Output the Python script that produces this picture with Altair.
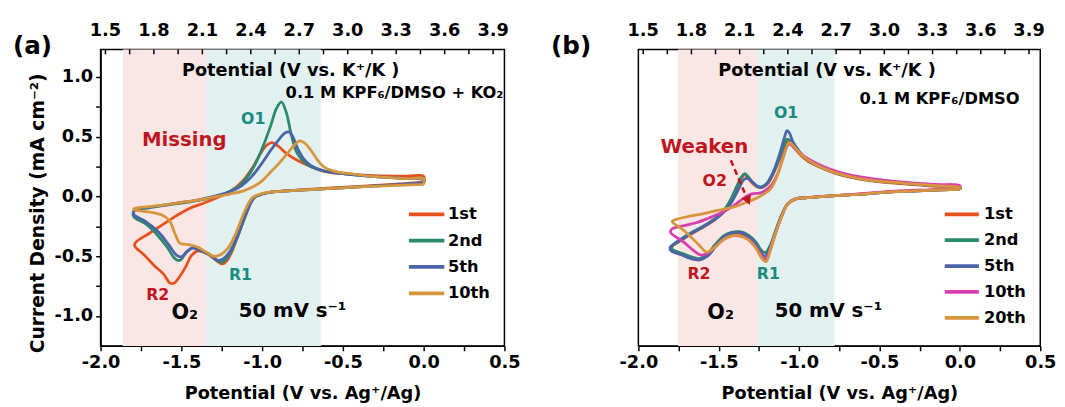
import altair as alt
import pandas as pd

FONT = "DejaVu Sans"

# ---------------- data ----------------
X_DOMAIN = [-2.0, 0.5]
Y_DOMAIN = [-1.25, 1.23]
K_DOMAIN = [1.47, 3.97]
X_TICKS = [-2.0, -1.75, -1.5, -1.25, -1.0, -0.75, -0.5, -0.25, 0.0, 0.25, 0.5]
Y_TICKS = [-1.0, -0.75, -0.5, -0.25, 0.0, 0.25, 0.5, 0.75, 1.0]
TOP_TICKS = [1.5, 1.65, 1.8, 1.95, 2.1, 2.25, 2.4, 2.55, 2.7, 2.85, 3.0, 3.15, 3.3, 3.45, 3.6, 3.75, 3.9]
TOP_LABELS = [1.5, 1.8, 2.1, 2.4, 2.7, 3.0, 3.3, 3.6, 3.9]

A_NAMES = ["1st", "2nd", "5th", "10th"]
A_COLORS = ["#e8501c", "#2b8a6e", "#4a64aa", "#d8963c"]
B_NAMES = ["1st", "2nd", "5th", "10th", "20th"]
B_COLORS = ["#e8501c", "#2b8a6e", "#4a64aa", "#d83fae", "#d8963c"]

A_PINK = [-1.862, -1.348]
A_TEAL = [-1.348, -0.636]
B_PINK = [-1.753, -1.262]
B_TEAL = [-1.262, -0.78]

# panel (a)
A1_V = [0.00, -0.20, -0.40, -0.60, -0.80, -0.92, -1.00, -1.05, -1.10, -1.15,
        -1.19, -1.22, -1.245, -1.29, -1.34, -1.40, -1.44, -1.47, -1.51, -1.545,
        -1.57, -1.61, -1.67, -1.73, -1.79,
        -1.78, -1.70, -1.62, -1.53, -1.45, -1.36, -1.28, -1.20, -1.12, -1.06,
        -1.01, -0.97, -0.94, -0.90, -0.85, -0.78, -0.70, -0.62, -0.50, -0.30,
        -0.10, 0.00, 0.00]
A1_I = [0.12, 0.10, 0.085, 0.07, 0.05, 0.04, 0.02, -0.01, -0.15, -0.33,
        -0.47, -0.54, -0.565, -0.53, -0.48, -0.455, -0.50, -0.58, -0.67, -0.725,
        -0.725, -0.65, -0.575, -0.49, -0.41,
        -0.38, -0.31, -0.24, -0.16, -0.10, -0.055, -0.01, 0.04, 0.13, 0.24,
        0.36, 0.43, 0.45, 0.42, 0.36, 0.30, 0.25, 0.21, 0.19, 0.175,
        0.17, 0.17, 0.12]

A2_V = [0.00, -0.20, -0.40, -0.60, -0.80, -0.92, -1.00, -1.05, -1.10, -1.15,
        -1.20, -1.235, -1.26, -1.29, -1.33, -1.38, -1.43, -1.47, -1.51, -1.54,
        -1.59, -1.65, -1.72, -1.795,
        -1.79, -1.70, -1.60, -1.50, -1.40, -1.30,
        -1.22, -1.15, -1.10, -1.05, -1.00, -0.95, -0.91, -0.88, -0.85, -0.82,
        -0.79, -0.75, -0.70, -0.62, -0.50, -0.30, -0.10, 0.00, 0.00]
A2_I = [0.11, 0.095, 0.08, 0.065, 0.05, 0.04, 0.02, -0.01, -0.15, -0.33,
        -0.48, -0.54, -0.55, -0.52, -0.48, -0.45, -0.43, -0.47, -0.535, -0.52,
        -0.42, -0.32, -0.23, -0.17,
        -0.12, -0.095, -0.075, -0.055, -0.035, -0.005,
        0.03, 0.08, 0.15, 0.25, 0.40, 0.58, 0.74, 0.79, 0.70, 0.52,
        0.38, 0.30, 0.25, 0.215, 0.19, 0.165, 0.15, 0.145, 0.11]

A3_V = [0.00, -0.20, -0.40, -0.60, -0.80, -0.92, -1.00, -1.05, -1.10, -1.15,
        -1.20, -1.24, -1.275, -1.31, -1.35, -1.39, -1.43, -1.465, -1.50, -1.53,
        -1.58, -1.64, -1.72, -1.795,
        -1.79, -1.70, -1.60, -1.50, -1.40, -1.30,
        -1.22, -1.15, -1.10, -1.05, -1.00, -0.95, -0.90, -0.86, -0.835, -0.81,
        -0.78, -0.74, -0.70, -0.62, -0.50, -0.30, -0.10, 0.00, 0.00]
A3_I = [0.115, 0.095, 0.08, 0.065, 0.05, 0.04, 0.02, -0.01, -0.14, -0.32,
        -0.46, -0.52, -0.535, -0.50, -0.47, -0.45, -0.43, -0.46, -0.505, -0.49,
        -0.40, -0.30, -0.21, -0.15,
        -0.115, -0.09, -0.07, -0.05, -0.03, 0.0,
        0.03, 0.07, 0.12, 0.19, 0.28, 0.38, 0.47, 0.53, 0.54, 0.50,
        0.40, 0.31, 0.26, 0.215, 0.19, 0.165, 0.15, 0.14, 0.115]

A4_V = [0.00, -0.20, -0.40, -0.60, -0.80, -0.92, -1.00, -1.06, -1.11, -1.16,
        -1.21, -1.26, -1.30, -1.34, -1.39, -1.43, -1.47, -1.51, -1.54, -1.575,
        -1.62, -1.70, -1.795,
        -1.79, -1.70, -1.60, -1.50, -1.40, -1.30, -1.20,
        -1.12, -1.05, -1.00, -0.95, -0.90, -0.85, -0.80, -0.77, -0.74, -0.70,
        -0.66, -0.62, -0.55, -0.45, -0.30, -0.10, 0.00, 0.00]
A4_I = [0.10, 0.09, 0.08, 0.065, 0.05, 0.04, 0.025, -0.01, -0.13, -0.30,
        -0.43, -0.49, -0.50, -0.47, -0.43, -0.41, -0.40, -0.39, -0.31, -0.20,
        -0.155, -0.13, -0.11,
        -0.10, -0.085, -0.07, -0.05, -0.03, -0.005, 0.02,
        0.045, 0.085, 0.13, 0.20, 0.27, 0.35, 0.43, 0.465, 0.45, 0.39,
        0.31, 0.25, 0.21, 0.19, 0.165, 0.15, 0.145, 0.10]

# panel (b)
B1_V = [0.00, -0.20, -0.40, -0.60, -0.80, -0.95, -1.02, -1.07, -1.11, -1.15,
        -1.18, -1.21, -1.235, -1.27, -1.32, -1.37, -1.42, -1.47, -1.52, -1.57,
        -1.62, -1.66, -1.72, -1.79,
        -1.79, -1.75, -1.68, -1.60, -1.52, -1.46,
        -1.42, -1.39, -1.36, -1.34, -1.32, -1.29, -1.26, -1.235, -1.20, -1.16,
        -1.12, -1.09, -1.075, -1.06, -1.04, -1.00, -0.95, -0.88, -0.80, -0.70,
        -0.55, -0.35, -0.15, 0.00, 0.00]
B1_I = [0.06, 0.05, 0.04, 0.02, 0.005, -0.01, -0.02, -0.06, -0.17, -0.32,
        -0.45, -0.54, -0.51, -0.41, -0.34, -0.31, -0.31, -0.34, -0.41, -0.49,
        -0.53, -0.52, -0.49, -0.45,
        -0.42, -0.38, -0.32, -0.26, -0.19, -0.11,
        -0.02, 0.07, 0.15, 0.18, 0.16, 0.11, 0.08, 0.075, 0.10, 0.19,
        0.32, 0.42, 0.46, 0.455, 0.42, 0.36, 0.30, 0.25, 0.205, 0.165,
        0.13, 0.105, 0.085, 0.075, 0.06]

B2_V = [0.00, -0.20, -0.40, -0.60, -0.80, -0.95, -1.02, -1.07, -1.11, -1.15,
        -1.18, -1.21, -1.235, -1.27, -1.32, -1.37, -1.42, -1.47, -1.52, -1.57,
        -1.62, -1.66, -1.72, -1.79,
        -1.79, -1.75, -1.68, -1.60, -1.52, -1.46,
        -1.42, -1.39, -1.36, -1.34, -1.32, -1.29, -1.26, -1.235, -1.20, -1.16,
        -1.12, -1.09, -1.075, -1.06, -1.04, -1.00, -0.95, -0.88, -0.80, -0.70,
        -0.55, -0.35, -0.15, 0.00, 0.00]
B2_I = [0.06, 0.05, 0.04, 0.02, 0.005, -0.01, -0.02, -0.06, -0.16, -0.30,
        -0.41, -0.47, -0.45, -0.38, -0.32, -0.295, -0.30, -0.33, -0.40, -0.48,
        -0.52, -0.51, -0.48, -0.44,
        -0.41, -0.37, -0.31, -0.25, -0.18, -0.10,
        -0.01, 0.08, 0.16, 0.19, 0.17, 0.12, 0.085, 0.08, 0.11, 0.20,
        0.33, 0.44, 0.48, 0.47, 0.43, 0.37, 0.31, 0.255, 0.21, 0.17,
        0.135, 0.11, 0.09, 0.08, 0.06]

B3_V = [0.00, -0.20, -0.40, -0.60, -0.80, -0.95, -1.02, -1.07, -1.11, -1.15,
        -1.18, -1.21, -1.235, -1.27, -1.32, -1.37, -1.42, -1.47, -1.52, -1.57,
        -1.62, -1.66, -1.73, -1.80,
        -1.80, -1.74, -1.66, -1.58, -1.50, -1.44,
        -1.40, -1.37, -1.345, -1.32, -1.29, -1.26, -1.235, -1.20, -1.16, -1.12,
        -1.09, -1.075, -1.06, -1.04, -1.00, -0.95, -0.88, -0.80, -0.70, -0.55,
        -0.35, -0.15, 0.00, 0.00]
B3_I = [0.06, 0.05, 0.04, 0.02, 0.005, -0.01, -0.02, -0.06, -0.16, -0.31,
        -0.43, -0.50, -0.48, -0.40, -0.33, -0.30, -0.305, -0.34, -0.42, -0.50,
        -0.53, -0.525, -0.49, -0.45,
        -0.42, -0.37, -0.30, -0.24, -0.17, -0.09,
        0.0, 0.08, 0.14, 0.15, 0.12, 0.085, 0.075, 0.11, 0.21, 0.36,
        0.50, 0.55, 0.53, 0.46, 0.38, 0.31, 0.255, 0.21, 0.17, 0.135,
        0.11, 0.09, 0.08, 0.06]

B4_V = [0.00, -0.20, -0.40, -0.60, -0.80, -0.95, -1.02, -1.07, -1.11, -1.15,
        -1.18, -1.205, -1.23, -1.27, -1.32, -1.37, -1.42, -1.47, -1.52, -1.57,
        -1.61, -1.65, -1.72, -1.80,
        -1.79, -1.72, -1.64, -1.56, -1.48, -1.42,
        -1.37, -1.33, -1.30, -1.27, -1.24, -1.21, -1.17, -1.13, -1.10, -1.075,
        -1.06, -1.04, -1.00, -0.95, -0.88, -0.80, -0.70, -0.55, -0.35, -0.15,
        0.00, 0.00]
B4_I = [0.065, 0.055, 0.045, 0.025, 0.005, -0.01, -0.02, -0.06, -0.17, -0.32,
        -0.44, -0.525, -0.50, -0.42, -0.355, -0.33, -0.33, -0.36, -0.42, -0.475,
        -0.49, -0.46, -0.38, -0.30,
        -0.27, -0.245, -0.22, -0.18, -0.135, -0.09,
        -0.04, 0.0, 0.02, 0.025, 0.03, 0.05, 0.10, 0.20, 0.33, 0.42,
        0.44, 0.42, 0.37, 0.32, 0.27, 0.225, 0.185, 0.15, 0.12, 0.10,
        0.09, 0.065]

B5_V = [0.00, -0.20, -0.40, -0.60, -0.80, -0.95, -1.02, -1.07, -1.11, -1.15,
        -1.18, -1.205, -1.23, -1.27, -1.32, -1.37, -1.42, -1.47, -1.52, -1.575,
        -1.62, -1.68, -1.73, -1.79,
        -1.76, -1.68, -1.60, -1.50, -1.40, -1.32,
        -1.26, -1.22, -1.18, -1.14, -1.10, -1.075, -1.06, -1.04, -1.00, -0.95,
        -0.88, -0.80, -0.70, -0.55, -0.35, -0.15, 0.00, 0.00]
B5_I = [0.06, 0.05, 0.04, 0.02, 0.005, -0.01, -0.02, -0.06, -0.17, -0.32,
        -0.45, -0.545, -0.52, -0.43, -0.36, -0.33, -0.33, -0.36, -0.42, -0.465,
        -0.41, -0.33, -0.27, -0.21,
        -0.19, -0.165, -0.145, -0.115, -0.085, -0.045,
        -0.01, 0.02, 0.06, 0.16, 0.32, 0.42, 0.45, 0.43, 0.37, 0.31,
        0.255, 0.21, 0.17, 0.135, 0.11, 0.09, 0.075, 0.06]

ARROW_V = [-1.425, -1.318]
ARROW_I = [0.303, -0.035]

# ---------------- layout constants ----------------
H = 301
W_A = 410
W_B = 408
TEAL_T = "#1b8b80"
RED_T = "#c0161f"
LABEL_EXPR = ("abs(datum.value*2 - round(datum.value*2)) < 0.001 ? "
              "replace(format(datum.value, '.1f'), '\u2212', '-') : ''")


def series_df(names, Vs, Is):
    rows = []
    for name, V, I in zip(names, Vs, Is):
        assert len(V) == len(I), name
        for k, (v, i) in enumerate(zip(V, I)):
            rows.append({"cycle": name, "V": v, "I": i, "idx": k})
    return pd.DataFrame(rows)


def text_layer(txt, x, y, size, color="black", align="center"):
    return alt.Chart(pd.DataFrame({"t": [txt]})).mark_text(
        font=FONT, fontWeight="bold", fontSize=size, color=color,
        align=align, baseline="middle"
    ).encode(text="t:N", x=alt.value(x), y=alt.value(y))


def panel(names, colors, Vs, Is, pink, teal, width, texts, leg, arrow=False):
    xs = alt.Scale(domain=X_DOMAIN, nice=False, zero=False)
    ys = alt.Scale(domain=Y_DOMAIN, nice=False, zero=False)
    ks = alt.Scale(domain=K_DOMAIN, nice=False, zero=False)
    color = alt.Color("cycle:N", scale=alt.Scale(domain=names, range=colors), legend=None)

    bands = pd.DataFrame({"x0": [pink[0], teal[0]], "x1": [pink[1], teal[1]],
                          "c": ["#fae6e4", "#e2f1f0"]})
    band_layer = alt.Chart(bands).mark_rect().encode(
        x=alt.X("x0:Q", scale=xs, axis=None), x2="x1:Q",
        y=alt.value(0), y2=alt.value(H),
        fill=alt.Fill("c:N", scale=None))

    df = series_df(names, Vs, Is)
    lines = alt.Chart(df).mark_line(strokeWidth=2.8, interpolate="catmull-rom").encode(
        x=alt.X("V:Q", scale=xs, title="Potential (V vs. Ag\u207a/Ag)",
                axis=alt.Axis(values=X_TICKS, labelExpr=LABEL_EXPR, titlePadding=13,
                              labelPadding=3)),
        y=alt.Y("I:Q", scale=ys, title="Current Density (mA cm\u207b\u00b2)",
                axis=alt.Axis(values=Y_TICKS, labelExpr=LABEL_EXPR, titlePadding=7,
                              labelPadding=3, titleY=166, titleFontSize=19)),
        color=color,
        order=alt.Order("idx:Q"),
    )

    top_ticks = alt.Chart(pd.DataFrame({"K": TOP_TICKS})).mark_rule(
        color="black", strokeWidth=1.5).encode(
        x=alt.X("K:Q", scale=ks, axis=None), y=alt.value(0), y2=alt.value(5))
    top_labels = alt.Chart(pd.DataFrame({"K": TOP_LABELS})).transform_calculate(
        lab="format(datum.K, '.1f')").mark_text(
        font=FONT, fontWeight="bold", fontSize=18, color="black",
        align="center", baseline="middle").encode(
        x=alt.X("K:Q", scale=ks, axis=None), y=alt.value(-18.5), text="lab:N")

    layers = [band_layer, lines, top_ticks, top_labels]

    if arrow:
        adf = pd.DataFrame({"V": ARROW_V, "I": ARROW_I, "k": [0, 1]})
        layers.append(alt.Chart(adf).mark_line(color="#c0161f", strokeWidth=2.6,
                                               strokeDash=[6, 4]).encode(
            x=alt.X("V:Q", scale=xs, axis=None), y=alt.Y("I:Q", scale=ys, axis=None),
            order="k:Q"))
        layers.append(alt.Chart(adf.iloc[[1]]).mark_point(
            shape="triangle-down", filled=True, color="#c0161f", size=110, angle=337,
            opacity=1).encode(
            x=alt.X("V:Q", scale=xs, axis=None), y=alt.Y("I:Q", scale=ys, axis=None)))

    for t in texts:
        layers.append(text_layer(*t))

    lx0, lx1, tx, ly0, dy = leg
    ldf = pd.DataFrame({"cycle": names, "ly": [ly0 + dy * k for k in range(len(names))]})
    layers.append(alt.Chart(ldf).mark_rule(strokeWidth=3.8).encode(
        x=alt.value(lx0), x2=alt.value(lx1), y=alt.Y("ly:Q", scale=None, axis=None),
        color=color))
    layers.append(alt.Chart(ldf).mark_text(
        font=FONT, fontWeight="bold", fontSize=16.5, color="black",
        align="left", baseline="middle").encode(
        x=alt.value(tx), y=alt.Y("ly:Q", scale=None, axis=None), text="cycle:N"))

    return alt.layer(*layers).resolve_scale(x="independent").properties(width=width, height=H)


A_TEXTS = [
    ("(a)", -89, -3, 25, "black", "left"),
    ("Potential (V vs. K\u207a/K )", 193, 21.5, 18),
    ("0.1 M KPF\u2086/DMSO + KO\u2082", 409, 44.5, 16.5, "black", "right"),
    ("O1", 155, 70.5, 16, TEAL_T),
    ("Missing", 85, 92.5, 20, RED_T),
    ("R1", 142, 229.5, 16, TEAL_T),
    ("R2", 58, 249.5, 16, RED_T),
    ("O\u2082", 85.5, 267.5, 21),
    ("50 mV s\u207b\u00b9", 195, 266, 20),
]
B_TEXTS = [
    ("(b)", -88.7, -3, 25, "black", "left"),
    ("Potential (V vs. K\u207a/K )", 191.5, 22.5, 18),
    ("0.1 M KPF\u2086/DMSO", 387, 50.8, 16.5, "black", "right"),
    ("O1", 150, 65, 16, TEAL_T),
    ("Weaken", 67, 99, 20, RED_T),
    ("O2", 77.5, 134, 16, RED_T),
    ("R2", 61.5, 228.5, 16, RED_T),
    ("R1", 132, 228.5, 16, TEAL_T),
    ("O\u2082", 83.5, 267.5, 21),
    ("50 mV s\u207b\u00b9", 193, 266, 20),
]

pa = panel(A_NAMES, A_COLORS, [A1_V, A2_V, A3_V, A4_V], [A1_I, A2_I, A3_I, A4_I],
           A_PINK, A_TEAL, W_A, A_TEXTS, (313, 349, 352.7, 167.5, 26.7))
pb = panel(B_NAMES, B_COLORS, [B1_V, B2_V, B3_V, B4_V, B5_V],
           [B1_I, B2_I, B3_I, B4_I, B5_I],
           B_PINK, B_TEAL, W_B, B_TEXTS, (311, 345.7, 350.8, 167.5, 26.25), arrow=True)

chart = alt.hconcat(pa, pb, spacing=29).resolve_scale(color="independent").properties(
    padding={"left": 4, "top": 10, "right": 0, "bottom": 0}
).configure_view(stroke="black", strokeWidth=1.5).configure_axis(
    grid=False, domainColor="black", domainWidth=1.5, tickColor="black", tickWidth=1.5,
    tickSize=5, labelFont=FONT, labelFontSize=18, labelFontWeight="bold",
    labelColor="black", titleFont=FONT, titleFontSize=18, titleFontWeight="bold",
    titleColor="black", labelFlush=False, labelOverlap=False
)

chart.save("out.html", embed_options={"renderer": "svg", "actions": False})
